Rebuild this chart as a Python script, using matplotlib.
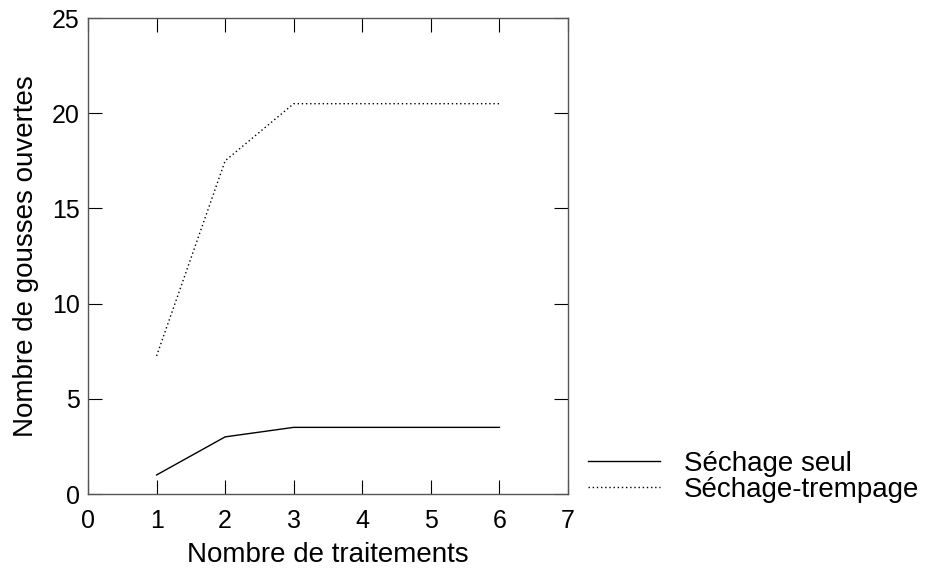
import matplotlib
matplotlib.use("Agg")
import matplotlib.pyplot as plt

plt.rcParams['font.family'] = ['Liberation Sans', 'DejaVu Sans']

# donnees
traitements = [1, 2, 3, 4, 5, 6]
sechage_seul = [1.0, 3.0, 3.5, 3.5, 3.5, 3.5]
sechage_trempage = [7.25, 17.5, 20.5, 20.5, 20.5, 20.5]
x_ticks = [0, 1, 2, 3, 4, 5, 6, 7]
y_ticks = [0, 5, 10, 15, 20, 25]

fig = plt.figure(figsize=(9.26, 5.69), dpi=100)
ax = fig.add_axes([88/926, 1-494/569, 480/926, 476/569])

ax.plot(traitements, sechage_seul, color="k", lw=1.0, label="Séchage seul")
ax.plot(traitements, sechage_trempage, color="k", lw=1.0, ls=(0, (1, 2)), label="Séchage-trempage")

ax.set_xlim(0, 7)
ax.set_ylim(0, 25)
ax.set_xticks(x_ticks)
ax.set_yticks(y_ticks)
ax.tick_params(direction="in", length=10, width=0.8, top=True, right=True,
               labelsize=18, pad=6)
ax.tick_params(axis="x", pad=11)
for s in ax.spines.values():
    s.set_color("#555555")
    s.set_linewidth(1.0)

ax.set_xlabel("Nombre de traitements", fontsize=20, labelpad=6)
ax.set_ylabel("Nombre de gousses ouvertes", fontsize=20, labelpad=9)

ax.legend(loc="center left", bbox_to_anchor=(1.019, 0.036), frameon=False,
          fontsize=20, handlelength=2.6, handletextpad=0.83, labelspacing=0.0,
          borderaxespad=0)

plt.savefig("out.png", dpi=100)
plt.close()
